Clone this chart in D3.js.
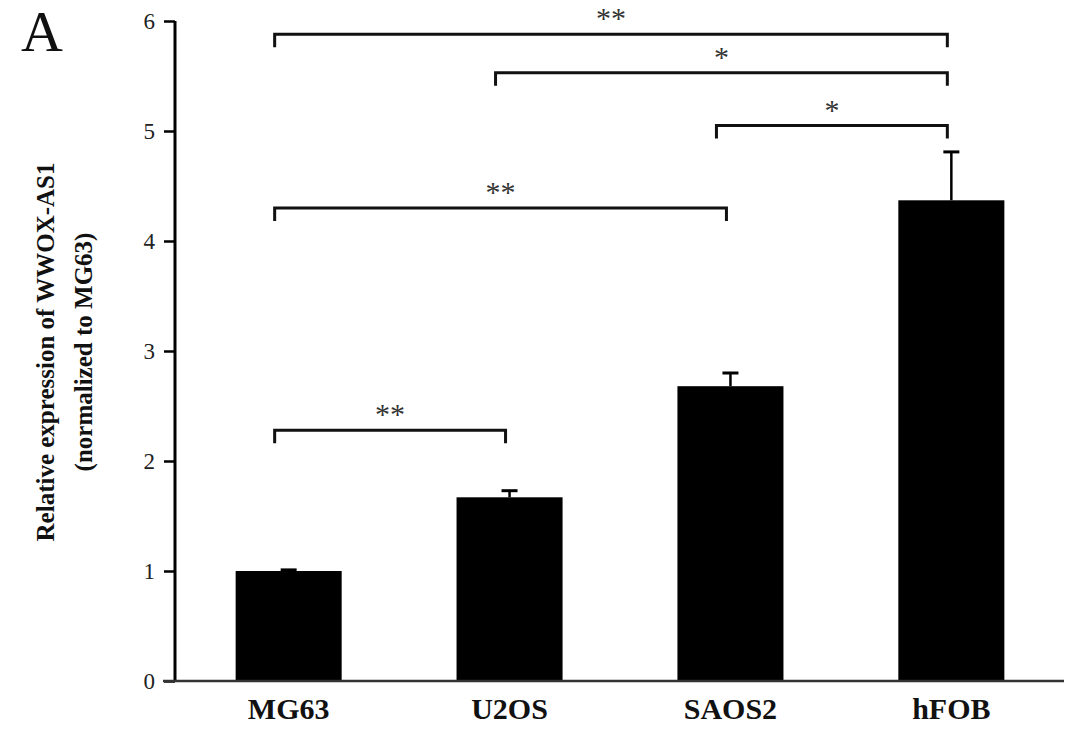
<!DOCTYPE html>
<html>
<head>
<meta charset="utf-8">
<script src="https://cdn.jsdelivr.net/npm/d3@7"></script>
<style>
  body { margin: 0; background: #fff; }
  text { font-family: "Liberation Serif", "Times New Roman", serif; }
</style>
</head>
<body>
<svg width="1087" height="730"></svg>
<script>
// donnees
var cells = ["MG63", "U2OS", "SAOS2", "hFOB"];
var means = [1.0, 1.67, 2.68, 4.37];
var errs = [0.01, 0.06, 0.12, 0.44];
var yTicks = [0, 1, 2, 3, 4, 5, 6];
// comparaisons : de, a, niveau, etoiles
var brFrom = ["MG63", "U2OS", "SAOS2", "MG63", "MG63"];
var brTo = ["hFOB", "hFOB", "hFOB", "SAOS2", "U2OS"];
var brLevel = [5.88, 5.53, 5.05, 4.30, 2.28];
var brStars = ["**", "*", "*", "**", "**"];

var svg = d3.select("svg");

var x = d3.scaleBand().domain(cells).range([176, 1064]).paddingInner(0.52).paddingOuter(0.27);
var y = d3.scaleLinear().domain([0, 6]).range([681, 21]);

// barres
svg.selectAll("rect.bar").data(cells).enter().append("rect")
  .attr("class", "bar")
  .attr("x", function(d){ return x(d); })
  .attr("width", x.bandwidth())
  .attr("y", function(d, i){ return y(means[i]); })
  .attr("height", function(d, i){ return y(0) - y(means[i]); })
  .attr("fill", "#000");

// barres d'erreur
cells.forEach(function(c, i){
  var cx = x(c) + x.bandwidth() / 2;
  svg.append("line").attr("x1", cx).attr("x2", cx)
    .attr("y1", y(means[i])).attr("y2", y(means[i] + errs[i]))
    .attr("stroke", "#000").attr("stroke-width", 2.5);
  svg.append("line").attr("x1", cx - 8).attr("x2", cx + 8)
    .attr("y1", y(means[i] + errs[i])).attr("y2", y(means[i] + errs[i]))
    .attr("stroke", "#000").attr("stroke-width", 3);
});

// axe Y
var yAxis = svg.append("g").attr("transform", "translate(175,0)")
  .call(d3.axisLeft(y).tickValues(yTicks).tickSize(11).tickPadding(9).tickFormat(d3.format("d")));
yAxis.select(".domain").attr("stroke-width", 3).attr("d", "M0," + y(6) + "V" + y(0));
yAxis.selectAll(".tick line").attr("stroke-width", 2.5);
yAxis.selectAll(".tick text").style("font-size", "23px").style("font-family", "Liberation Serif").attr("fill", "#222");

// axe X
svg.append("line").attr("x1", 163).attr("x2", 1064).attr("y1", y(0)).attr("y2", y(0))
  .attr("stroke", "#333").attr("stroke-width", 2.5);
svg.selectAll("text.xl").data(cells).enter().append("text")
  .attr("class", "xl")
  .attr("x", function(d){ return x(d) + x.bandwidth() / 2; })
  .attr("y", 719)
  .attr("text-anchor", "middle")
  .style("font-size", "30px").style("font-weight", "bold").attr("fill", "#111")
  .text(function(d){ return d; });

// crochets de significativite
brFrom.forEach(function(f, i){
  var x1 = x(f) + x.bandwidth() / 2 - 14;
  var x2 = x(brTo[i]) + x.bandwidth() / 2 - 4;
  var yy = y(brLevel[i]);
  svg.append("path")
    .attr("d", "M" + x1 + "," + (yy + 13) + "V" + yy + "H" + x2 + "V" + (yy + 13))
    .attr("fill", "none").attr("stroke", "#111").attr("stroke-width", 3);
  svg.append("text")
    .attr("x", (x1 + x2) / 2).attr("y", yy - 6)
    .attr("text-anchor", "middle")
    .style("font-size", "30px").attr("fill", "#333")
    .text(brStars[i]);
});

// titre de l'axe Y
var yl = svg.append("text")
  .attr("transform", "translate(54,352) rotate(-90)")
  .attr("text-anchor", "middle")
  .style("font-size", "25px").style("font-weight", "bold").attr("fill", "#111");
yl.append("tspan").attr("x", 0).attr("dy", 0).text("Relative expression of WWOX-AS1");
yl.append("tspan").attr("x", 0).attr("dy", 38).text("(normalized to MG63)");

// lettre du panneau
svg.append("text").attr("x", 21).attr("y", 51)
  .style("font-size", "58px").attr("fill", "#111").text("A");
</script>
</body>
</html>
